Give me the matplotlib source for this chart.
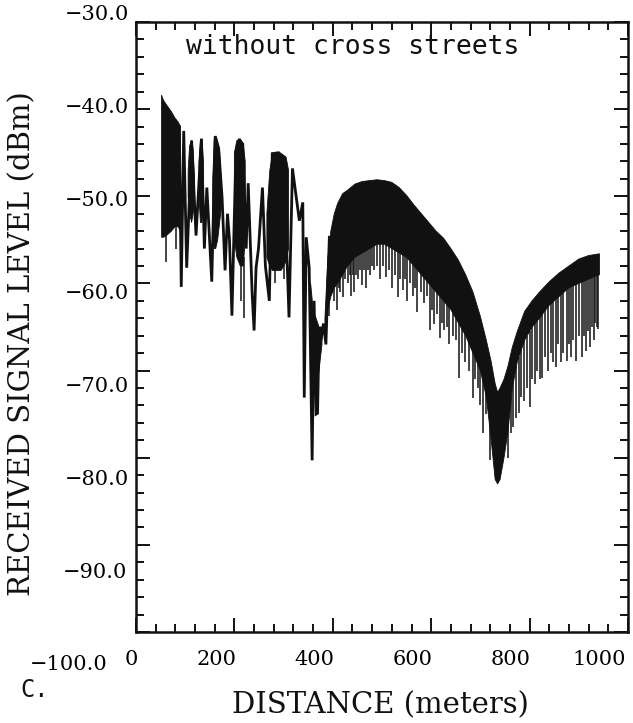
import numpy as np
import matplotlib
matplotlib.use("Agg")
import matplotlib.pyplot as plt
from matplotlib.ticker import MultipleLocator
from matplotlib.transforms import ScaledTranslation

nan = np.nan

# ---- data (distance in m, level in dBm) ----
# zig-zag trace of the individual lobes (peaks / troughs)
trace_dist = [88, 92, 97, 103, 113, 122, 133, 139, 144, 154, 161, 168, 175, 181,
              186, 190, 195, 203, 210, 217, 224, 228, 236, 240, 244, 249, 257,
              263, 271, 277, 290, 300, 311, 318, 332, 339, 342, 346, 352, 358,
              362, 366, 369, 372, 376, 381, 386, 393]
trace_level = [-42.0, -60.4, -42.5, -58.2, -43.6, -54.5, -43.4, -56.0, -49.0,
               -59.8, -43.1, -44.5, -50.2, -58.5, -52.0, -55.0, -63.7, -45.0,
               -43.6, -44.0, -56.0, -48.5, -61.1, -65.4, -58.2, -56.0, -49.0,
               -58.0, -62.0, -45.1, -45.0, -45.5, -63.9, -46.8, -52.8, -50.7,
               -73.1, -54.7, -58.2, -80.3, -62.0, -75.0, -74.9, -66.0, -66.5,
               -64.6, -67.0, -54.7]

# dense (solid black) parts of the record: upper and lower edge
band_dist = [52, 56, 62, 72, 79, 86, 90, nan,
             106, 109, 113, 116, 119, nan,
             128, 131, 134, 137, nan,
             156, 159, 162, 166, 170, 174, nan,
             200, 205, 212, 218, 222, nan,
             266, 272, 277, 285, 295, 305, 310, nan,
             355, 360, 366, 372, 378, nan,
             384, 390, 396, 403, 410, 420, 430, 445, 460, 475, 490, 505, 520,
             535, 550, 565, 580, 595, 610, 625, 640, 655, 670, 685, 700, 712,
             722, 730, 735, 740, 748, 756, 765, 775, 790, 805, 820, 840, 860,
             880, 900, 920, 942]
band_top = [-38.4, -39.0, -39.5, -40.3, -41.0, -41.5, -42.0, nan,
            -47.0, -44.2, -43.6, -44.5, -48.0, nan,
            -46.0, -43.6, -43.4, -46.0, nan,
            -48.0, -43.5, -43.1, -43.8, -45.0, -49.0, nan,
            -45.0, -43.6, -43.4, -44.0, -46.0, nan,
            -52.0, -47.0, -45.3, -45.0, -45.1, -45.5, -47.0, nan,
            -60.0, -63.0, -64.0, -65.0, -65.0, nan,
            -64.0, -57.0, -54.0, -52.0, -50.8, -49.7, -49.3, -48.6, -48.3,
            -48.2, -48.1, -48.2, -48.4, -49.0, -49.9, -51.0, -52.0, -53.0,
            -54.0, -54.8, -56.0, -57.3, -59.0, -61.0, -63.8, -66.5, -69.0,
            -71.5, -72.5, -72.0, -71.0, -69.5, -67.3, -65.5, -63.2, -62.0,
            -61.0, -59.8, -58.8, -58.0, -57.2, -56.8, -56.6]
band_bottom = [-54.7, -54.7, -54.5, -54.0, -53.5, -53.5, -54.0, nan,
               -50.0, -52.0, -53.0, -52.0, -50.0, nan,
               -50.0, -53.0, -53.0, -50.0, nan,
               -54.0, -56.0, -56.0, -55.0, -53.0, -51.0, nan,
               -55.0, -57.0, -58.0, -58.0, -55.0, nan,
               -57.0, -58.0, -58.5, -58.5, -58.5, -57.5, -56.0, nan,
               -68.0, -72.0, -72.0, -70.0, -67.0, nan,
               -66.0, -63.0, -61.5, -60.5, -60.0, -59.0, -58.0, -57.0, -56.5,
               -56.0, -55.5, -55.5, -56.0, -56.5, -57.0, -58.0, -59.0, -60.0,
               -61.0, -62.0, -63.0, -64.5, -66.0, -68.0, -70.0, -73.0, -78.0,
               -82.5, -83.0, -82.5, -80.0, -77.0, -72.0, -69.0, -66.5, -65.0,
               -64.0, -62.5, -61.5, -60.5, -60.0, -59.5, -59.0]

# individual deep fades hanging below the dense band
spike_dist = [61, 81, 214, 220, 283, 300,
              393, 398, 402, 406, 409, 412, 415, 420, 425, 430, 434, 437, 441,
              444, 448, 452, 456, 460, 464, 468, 472, 476, 480, 484, 490, 495,
              502, 509, 515, 521, 527, 532, 537, 542, 546, 550, 556, 562, 567,
              572, 579, 586, 591, 597, 602, 606, 612, 617, 622, 627, 632, 637,
              644, 650, 656, 662, 668, 676, 684, 690, 695, 700, 705, 712, 719,
              725,
              756, 762, 767, 772, 778, 783, 788, 794, 800, 805, 810, 816, 821,
              826, 832, 838, 843, 848, 853, 858, 863, 868, 875, 880, 884, 889,
              895, 900, 906, 911, 915, 919, 922, 926, 930, 933, 936, 940]
spike_low = [-57.5, -56.0, -62.0, -64.0, -60.0, -59.5,
             -63.7, -61.0, -62.0, -60.0, -63.1, -60.5, -61.0, -61.6, -59.5,
             -60.0, -59.0, -61.5, -59.0, -61.0, -59.0, -59.5, -58.5, -60.2,
             -58.5, -60.5, -58.5, -59.0, -58.0, -58.5, -58.0, -59.5, -58.0,
             -59.3, -58.5, -60.5, -59.0, -61.6, -59.5, -60.8, -59.5, -62.0,
             -60.0, -61.5, -60.5, -63.3, -61.0, -62.3, -61.5, -65.4, -63.0,
             -64.6, -63.5, -66.3, -64.5, -65.4, -65.0, -66.9, -66.0, -66.5,
             -70.8, -68.0, -69.0, -70.0, -73.1, -71.0, -72.0, -74.0, -77.2,
             -75.0, -80.3, -79.0,
             -80.0, -77.2, -76.5, -75.5, -74.9, -73.0, -73.5, -72.0, -74.2,
             -71.0, -71.5, -70.0, -71.0, -70.8, -68.5, -70.0, -68.0, -69.0,
             -69.6, -67.0, -69.0, -68.0, -68.9, -67.0, -68.5, -66.5, -68.9,
             -66.0, -68.5, -66.0, -67.7, -65.5, -67.3, -65.0, -66.5, -64.5,
             -65.0, -65.2]
spike_high = [-54.0, -53.0, -57.0, -57.0, -57.5, -57.0,
              -61.0, -60.5, -59.5, -59.0, -59.0, -58.8, -58.5, -58.0, -57.5,
              -57.0, -57.0, -56.8, -56.5, -56.0, -56.0, -56.0, -55.5, -55.5,
              -55.5, -55.5, -55.0, -55.0, -55.0, -55.0, -54.5, -54.5, -54.5,
              -54.5, -54.8, -55.0, -55.2, -55.5, -55.5, -55.8, -56.0, -56.0,
              -56.5, -57.0, -57.0, -57.5, -58.0, -58.5, -59.0, -59.0, -59.5,
              -60.0, -60.0, -60.5, -61.0, -61.0, -61.5, -62.0, -62.5, -63.0,
              -63.5, -64.0, -65.0, -66.0, -67.0, -68.0, -68.5, -69.0, -70.0,
              -72.0, -74.0, -76.0,
              -76.0, -73.0, -71.0, -69.5, -68.5, -67.5, -66.5, -66.0, -65.5,
              -64.5, -64.0, -63.5, -63.0, -63.0, -62.5, -62.0, -61.8, -61.5,
              -61.2, -61.0, -60.8, -60.5, -60.2, -60.0, -59.8, -59.5, -59.5,
              -59.2, -59.0, -59.0, -58.8, -58.6, -58.5, -58.5, -58.3, -58.2,
              -58.1, -58.0]

x_ticks = [0, 200, 400, 600, 800, 1000]
x_ticklabels = ["0", "200", "400", "600", "800", "1000"]
y_ticks = [-30, -40, -50, -60, -70, -80, -90, -100]
y_ticklabels = ["\u221230.0", "\u221240.0", "\u221250.0", "\u221260.0",
                "\u221270.0", "\u221280.0", "\u221290.0", "\u2212100.0"]

# ---- figure ----
W, H, DPI = 633, 723, 100
fig = plt.figure(figsize=(W / DPI, H / DPI), dpi=DPI, facecolor="white")
ax = fig.add_axes([136 / W, 1 - 632 / H, 492 / W, 610 / H])

ink = "#111111"
ax.fill_between(band_dist, band_top, band_bottom, color=ink, lw=0.6,
                edgecolor=ink)
ax.plot(trace_dist, trace_level, color=ink, lw=2.0, solid_joinstyle="miter")
ax.vlines(spike_dist, spike_low, spike_high, color=ink, lw=1.1)

ax.set_xlim(0, 1000)
ax.set_ylim(-100, -30)

serif = ["DejaVu Serif"]
mono = ["DejaVu Sans Mono"]

ax.set_xticks(x_ticks)
ax.set_xticklabels(x_ticklabels, family=serif, fontsize=15, ha="right")
ax.set_yticks(y_ticks)
ax.set_yticklabels(y_ticklabels, family=serif, fontsize=15)
ax.xaxis.set_minor_locator(MultipleLocator(40))
ax.yaxis.set_minor_locator(MultipleLocator(2))
ax.tick_params(which="both", direction="in", top=True, right=True,
               color=ink, width=1.4)
ax.tick_params(which="major", length=10)
ax.tick_params(which="minor", length=5.5)
ax.tick_params(axis="x", which="major", pad=13)
ax.tick_params(axis="y", which="major", pad=5)
for s in ax.spines.values():
    s.set_linewidth(1.8)
    s.set_color(ink)

# the scanned labels are not exactly under / beside their ticks
y_dx = [0, 0, 0, 0, 0, 0, -2, -21]
for k, lab in enumerate(ax.get_yticklabels()):
    dy_px = -9 + 5.71 * k
    lab.set_transform(lab.get_transform() +
                      ScaledTranslation(y_dx[k] / DPI, -dy_px / DPI,
                                        fig.dpi_scale_trans))
x_dx = [2, 2, 2, 1, 1, -2]
for k, lab in enumerate(ax.get_xticklabels()):
    lab.set_transform(lab.get_transform() +
                      ScaledTranslation(x_dx[k] / DPI, 0, fig.dpi_scale_trans))

fig.text(22 / W, 1 - 344 / H, "RECEIVED SIGNAL LEVEL (dBm)", rotation=90,
         ha="center", va="center", family=serif, fontsize=21, color=ink)
fig.text(380 / W, 1 - 705 / H, "DISTANCE (meters)", ha="center",
         va="center", family=serif, fontsize=21, color=ink)
fig.text(20 / W, 1 - 690 / H, "C.", ha="left", va="center", family=mono,
         fontsize=17, color=ink)
fig.text(186 / W, 1 - 47 / H, "without cross streets", ha="left",
         va="center", family=mono, fontsize=19, color=ink)

fig.savefig("out.png", dpi=DPI, facecolor="white")
